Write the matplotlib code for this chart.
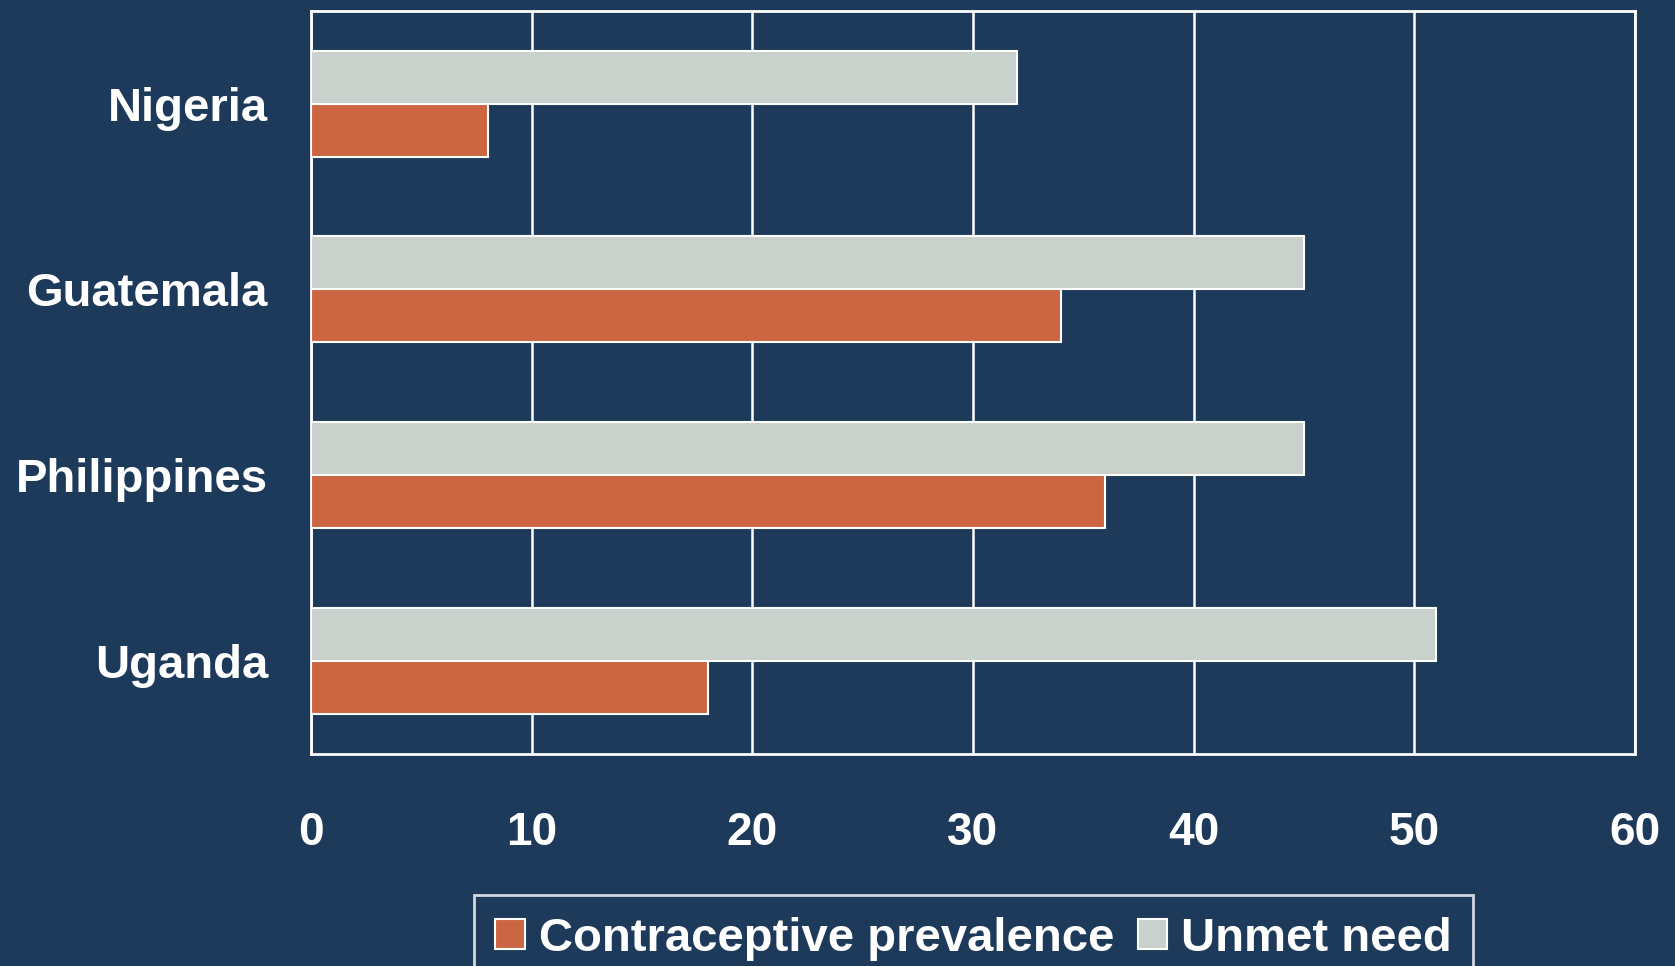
import numpy as np
import matplotlib
matplotlib.use("Agg")
import matplotlib.pyplot as plt

countries = ["Nigeria", "Guatemala", "Philippines", "Uganda"]
prevalence = [8, 34, 36, 18]
unmet_need = [32, 45, 45, 51]

bg = "#1E3A5A"
orange = "#CC6542"
grey = "#C8D1CB"

plt.rcParams["font.family"] = ["Liberation Sans", "DejaVu Sans"]
plt.rcParams["font.weight"] = "bold"

fig = plt.figure(figsize=(16.75, 9.66), dpi=100, facecolor=bg)
ax = fig.add_axes([0.1857, 0.2195, 0.7904, 0.7695], facecolor=bg)

y = np.arange(len(countries))
h = 0.285
ax.barh(y - h / 2, unmet_need, height=h, color=grey, edgecolor="white",
        linewidth=1.5, label="Unmet need", zorder=3)
ax.barh(y + h / 2, prevalence, height=h, color=orange, edgecolor="white",
        linewidth=1.5, label="Contraceptive prevalence", zorder=3)

ax.set_xlim(0, 60)
ax.set_ylim(3.5, -0.5)
ax.set_xticks(range(0, 61, 10))
ax.set_yticks(y)
ax.set_yticklabels(countries)
ax.grid(axis="x", color="white", linewidth=1.8, zorder=1)
ax.tick_params(axis="x", length=0, pad=41, labelsize=33, labelcolor="white")
ax.tick_params(axis="y", length=0, pad=31, labelsize=34, labelcolor="white")
for lbl in ax.get_xticklabels() + ax.get_yticklabels():
    lbl.set_fontweight("bold")
for s in ax.spines.values():
    s.set_color("white")
    s.set_linewidth(2)

# legend sits below the tick labels, its bottom runs off the figure
handles, labels = ax.get_legend_handles_labels()
leg = fig.legend(handles[::-1], labels[::-1], loc="upper left",
                 bbox_to_anchor=(0.283, 0.073), borderaxespad=0, ncol=2,
                 frameon=True, fancybox=False, facecolor=bg, edgecolor="white",
                 prop={"size": 34, "weight": "bold"}, labelcolor="white",
                 handlelength=0.62, handleheight=0.62, handletextpad=0.3,
                 columnspacing=0.5, borderpad=0.45)
leg.get_frame().set_linewidth(2)

fig.savefig("out.png", dpi=100, facecolor=bg)
